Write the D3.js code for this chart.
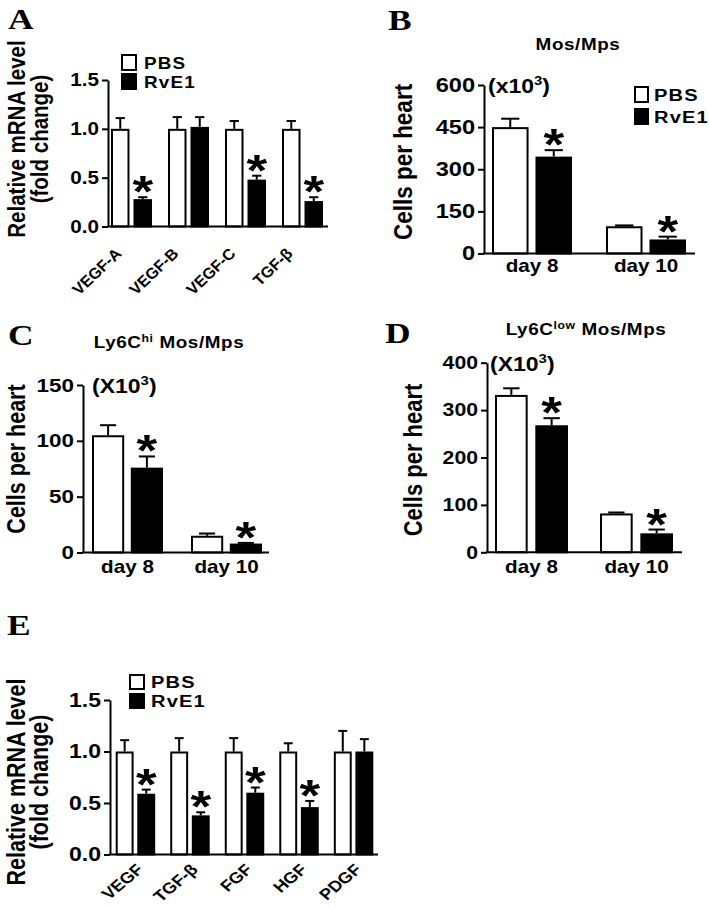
<!DOCTYPE html>
<html><head><meta charset="utf-8">
<script src="https://cdn.jsdelivr.net/npm/d3@7"></script>
<style>
body{margin:0;background:#fff}
svg{display:block}
text{font-family:"Liberation Sans",Arial,sans-serif;font-weight:bold;fill:#000}
</style>
</head><body>
<svg id="c" width="709" height="907"></svg>
<script>
// ---------------- data ----------------
const seriesNames = ["PBS", "RvE1"];

const catsA = ["VEGF-A", "VEGF-B", "VEGF-C", "TGF-β"];
const pbsA = [1.0, 1.0, 1.0, 1.0];
const pbsErrA = [0.11, 0.12, 0.08, 0.08];
const rveA = [0.28, 1.02, 0.48, 0.26];
const rveErrA = [0.02, 0.10, 0.04, 0.04];
const sigA = [true, false, true, true];
const ticksA = [0, 0.5, 1.0, 1.5];

const catsB = ["day 8", "day 10"];
const pbsB = [450, 97];
const pbsErrB = [30, 3];
const rveB = [345, 50];
const rveErrB = [23, 10];
const sigB = [true, true];
const ticksB = [0, 150, 300, 450, 600];

const catsC = ["day 8", "day 10"];
const pbsC = [105, 15];
const pbsErrC = [9, 2];
const rveC = [76, 8];
const rveErrC = [10, 0.6];
const sigC = [true, true];
const ticksC = [0, 50, 100, 150];

const catsD = ["day 8", "day 10"];
const pbsD = [332, 82];
const pbsErrD = [14, 2];
const rveD = [268, 40];
const rveErrD = [15, 8];
const sigD = [true, true];
const ticksD = [0, 100, 200, 300, 400];

const catsE = ["VEGF", "TGF-β", "FGF", "HGF", "PDGF"];
const pbsE = [1.0, 1.0, 1.0, 1.0, 1.0];
const pbsErrE = [0.11, 0.13, 0.13, 0.08, 0.20];
const rveE = [0.59, 0.38, 0.60, 0.46, 1.0];
const rveErrE = [0.04, 0.03, 0.05, 0.06, 0.12];
const sigE = [true, true, true, true, false];
const ticksE = [0, 0.5, 1.0, 1.5];

// ---------------- drawing ----------------
const SX = 1.18; // horizontal stretch of the original figure
const svg = d3.select("#c");

function txt(g, x, y, str, size, opt = {}) {
  const sx = opt.sx === undefined ? SX : opt.sx;
  const t = g.append("text")
    .attr("transform", `translate(${x},${y}) scale(${sx},1)` + (opt.rot ? ` rotate(${opt.rot})` : ""))
    .attr("font-size", size)
    .attr("text-anchor", opt.anchor || "start")
    .text(str);
  if (opt.family) t.style("font-family", opt.family);
  return t;
}

function panel(o) {
  const g = svg.append("g");
  const yMax = o.ticks[o.ticks.length - 1];
  const y = d3.scaleLinear().domain([0, yMax]).range([o.base, o.top]);
  const x = d3.scaleBand().domain(o.cats).range([o.g0, o.g1]).paddingInner(o.pad).paddingOuter(0);
  const xs = d3.scaleBand().domain(seriesNames).range([0, x.bandwidth()]).paddingInner(o.sub);

  const rows = [];
  o.cats.forEach((c, i) => {
    rows.push({c, s: "PBS", v: o.pbs[i], e: o.pbsErr[i], sig: false});
    rows.push({c, s: "RvE1", v: o.rve[i], e: o.rveErr[i], sig: o.sig[i]});
  });

  // error bars (drawn behind bars)
  rows.forEach(r => {
    const bx = x(r.c) + xs(r.s), bw = xs.bandwidth(), cx = bx + bw / 2;
    const yt = y(r.v + r.e);
    g.append("line").attr("x1", cx).attr("x2", cx).attr("y1", y(r.v)).attr("y2", yt)
      .attr("stroke", "#000").attr("stroke-width", 2);
    g.append("line").attr("x1", cx - bw * 0.25).attr("x2", cx + bw * 0.25).attr("y1", yt).attr("y2", yt)
      .attr("stroke", "#000").attr("stroke-width", 2);
    if (r.sig) txt(g, cx, yt + 10, "*", 45, {anchor: "middle"});
  });

  // bars
  g.selectAll("rect.bar").data(rows).join("rect").attr("class", "bar")
    .attr("x", r => x(r.c) + xs(r.s) + 1)
    .attr("width", xs.bandwidth() - 2)
    .attr("y", r => y(r.v) + 1)
    .attr("height", r => Math.max(0, o.base - y(r.v) - 1))
    .attr("fill", r => r.s === "PBS" ? "#fff" : "#000")
    .attr("stroke", "#000").attr("stroke-width", 2);

  // y axis
  const ax = g.append("g").attr("transform", `translate(${o.axisX},0)`)
    .call(d3.axisLeft(y).tickValues(o.ticks).tickFormat(o.fmt).tickSize(6).tickSizeOuter(0).tickPadding(2));
  ax.select(".domain").attr("stroke-width", 2);
  ax.selectAll(".tick line").attr("stroke-width", 2);
  ax.selectAll(".tick text")
    .attr("font-size", o.tickFont)
    .attr("x", -9 / SX)
    .attr("transform", `scale(${SX},1)`);
  ax.attr("font-family", null);

  // x baseline
  g.append("line").attr("x1", o.axisX - 1).attr("x2", o.axisEnd).attr("y1", o.base).attr("y2", o.base)
    .attr("stroke", "#000").attr("stroke-width", 2);

  // x labels
  o.cats.forEach(c => {
    const cx = x(c) + x.bandwidth() / 2;
    if (o.rotLabels) {
      txt(g, cx + o.ldx, o.base + o.ldy, c, o.labelFont, {anchor: "end", rot: -45, sx: o.labelSX});
    } else {
      txt(g, cx, o.labelY, c, o.labelFont, {anchor: "middle"});
    }
  });

  // y title
  o.ytitle.forEach((line, i) => {
    txt(g, o.ytx[i], o.tcy, line, o.ytFont, {anchor: "middle", rot: -90});
  });

  // panel letter
  txt(g, o.letterX, o.letterY, o.letter, 30, {family: "'Liberation Serif','Times New Roman',serif"});

  // legend
  if (o.legend) {
    const L = o.legend;
    seriesNames.forEach((s, i) => {
      g.append("rect").attr("x", L.x + 1).attr("y", L.y + i * L.dy + 1).attr("width", L.w - 2).attr("height", L.h - 2)
        .attr("fill", s === "PBS" ? "#fff" : "#000").attr("stroke", "#000").attr("stroke-width", 2);
      txt(g, L.tx, L.y + i * L.dy + L.h - 2, s, L.font).attr("letter-spacing", 1);
    });
  }

  // units
  if (o.units) {
    const t = txt(g, o.units.x, o.units.y, "", o.units.font);
    t.append("tspan").text("(" + o.units.xch + "10");
    t.append("tspan").attr("font-size", o.units.font * 0.65).attr("dy", -8).text("3");
    t.append("tspan").attr("dy", 8).text(")");
  }

  // title
  if (o.title) {
    const t = txt(g, o.title.x, o.title.y, "", o.title.font, {anchor: "middle"});
    if (o.title.sup) {
      t.append("tspan").text("Ly6C");
      t.append("tspan").attr("font-size", o.title.font * 0.65).attr("dy", -6).text(o.title.sup);
      t.append("tspan").attr("dy", 6).text(" Mos/Mps");
    } else {
      t.text("Mos/Mps");
    }
    t.attr("letter-spacing", 0.5);
  }
}

const f1 = d3.format(".1f"), f0 = d3.format("d");

panel({letter: "A", letterX: 8, letterY: 29,
  cats: catsA, pbs: pbsA, pbsErr: pbsErrA, rve: rveA, rveErr: rveErrA, sig: sigA, ticks: ticksA, fmt: f1,
  base: 226.5, top: 80, axisX: 108, axisEnd: 328, g0: 111, g1: 323, pad: 0.281, sub: 0.178,
  tickFont: 17.5, rotLabels: true, ldx: -9, ldy: 28, labelFont: 15.5, labelSX: 1.05,
  ytitle: ["Relative mRNA level", "(fold change)"], ytx: [25, 48], tcy: 139, ytFont: 20.5,
  legend: {x: 121, y: 54, w: 16, h: 17, dy: 19, tx: 144, font: 16}});

panel({letter: "B", letterX: 388, letterY: 30,
  cats: catsB, pbs: pbsB, pbsErr: pbsErrB, rve: rveB, rveErr: rveErrB, sig: sigB, ticks: ticksB, fmt: f0,
  base: 253.5, top: 85, axisX: 484, axisEnd: 695, g0: 492, g1: 686, pad: 0.298, sub: 0.16,
  tickFont: 20, rotLabels: false, labelY: 272, labelFont: 17.5,
  ytitle: ["Cells per heart"], ytx: [412], tcy: 162, ytFont: 22.5,
  legend: {x: 634, y: 86, w: 15, h: 17, dy: 22, tx: 654, font: 17},
  units: {x: 488, y: 93, font: 19.5, xch: "x"},
  title: {x: 578, y: 50, font: 16}});

panel({letter: "C", letterX: 8, letterY: 345,
  cats: catsC, pbs: pbsC, pbsErr: pbsErrC, rve: rveC, rveErr: rveErrC, sig: sigC, ticks: ticksC, fmt: f0,
  base: 552.5, top: 385, axisX: 83, axisEnd: 269, g0: 92, g1: 262, pad: 0.283, sub: 0.17,
  tickFont: 19, rotLabels: false, labelY: 573, labelFont: 17.5,
  ytitle: ["Cells per heart"], ytx: [25], tcy: 459, ytFont: 21.5,
  units: {x: 92, y: 393, font: 19.5, xch: "X"},
  title: {x: 169, y: 348, font: 16, sup: "hi"}});

panel({letter: "D", letterX: 385, letterY: 343,
  cats: catsD, pbs: pbsD, pbsErr: pbsErrD, rve: rveD, rveErr: rveErrD, sig: sigD, ticks: ticksD, fmt: f0,
  base: 552.3, top: 362.7, axisX: 487, axisEnd: 682, g0: 495, g1: 673, pad: 0.305, sub: 0.19,
  tickFont: 18, rotLabels: false, labelY: 573, labelFont: 17.5,
  ytitle: ["Cells per heart"], ytx: [422], tcy: 460, ytFont: 22,
  units: {x: 490, y: 371, font: 19.5, xch: "X"},
  title: {x: 586, y: 335, font: 16, sup: "low"}});

panel({letter: "E", letterX: 7, letterY: 635,
  cats: catsE, pbs: pbsE, pbsErr: pbsErrE, rve: rveE, rveErr: rveErrE, sig: sigE, ticks: ticksE, fmt: f1,
  base: 854.5, top: 700, axisX: 110, axisEnd: 378, g0: 115.7, g1: 373.3, pad: 0.276, sub: 0.17,
  tickFont: 19.5, rotLabels: true, ldx: 9, ldy: 16, labelFont: 15.5,
  ytitle: ["Relative mRNA level", "(fold change)"], ytx: [25, 48], tcy: 782, ytFont: 21.5,
  legend: {x: 129, y: 674, w: 16, h: 16, dy: 19, tx: 151, font: 17}});
</script>
</body></html>
